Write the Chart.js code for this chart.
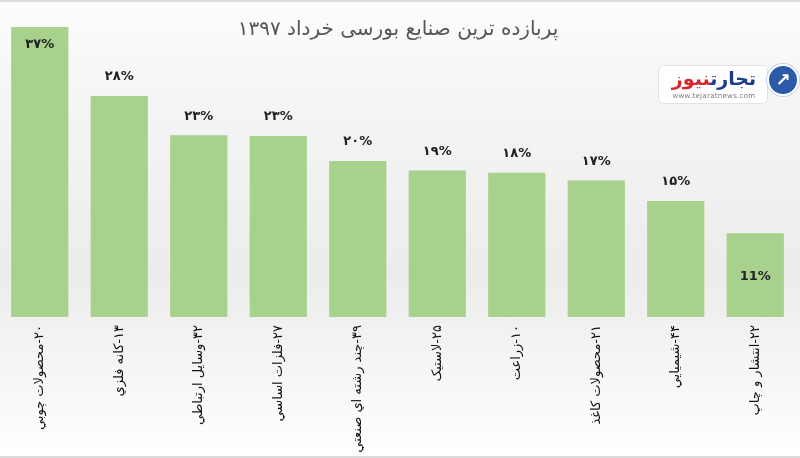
<!DOCTYPE html>
<html lang="fa">
<head>
<meta charset="utf-8">
<script src="https://cdn.jsdelivr.net/npm/chart.js@4.4.1/dist/chart.umd.min.js"></script>
<style>
  html, body { margin: 0; padding: 0; }
  body { width: 800px; height: 458px; overflow: hidden; }
  #wrap {
    position: relative; width: 800px; height: 458px; box-sizing: border-box;
    border-top: 2px solid #dcdcdc; border-bottom: 2px solid #dcdcdc;
    background: linear-gradient(to bottom, #fcfcfc 0%, #f4f4f4 25%, #ececec 60%, #f5f5f5 80%, #ffffff 100%);
  }
  #c { position: absolute; left: 0; top: 0; direction: rtl; }
  #title {
    position: absolute; left: 0; width: 796px; top: 14px; text-align: center;
    font-family: "DejaVu Sans", "Noto Sans", sans-serif; font-size: 20px; color: #555;
    direction: rtl;
  }
  #logo { position: absolute; left: 658px; top: 62px; width: 140px; height: 42px; }
  #logo .box {
    position: absolute; left: 0; top: 1px; width: 110px; height: 39px;
    background: #fff; border: 1px solid #e2e2e2; border-radius: 6px; box-sizing: border-box;
  }
  #logo .name {
    position: absolute; left: 4px; top: 0px; width: 102px; text-align: center; direction: rtl;
    font-family: "DejaVu Sans", sans-serif; font-weight: bold; font-size: 19px; line-height: 24px;
  }
  #logo .name .a { color: #1f3c88; }
  #logo .name .b { color: #d7262e; }
  #logo .url {
    position: absolute; left: 3px; top: 26px; width: 104px; text-align: center;
    font-family: "DejaVu Sans", sans-serif; font-size: 7px; color: #777; letter-spacing: 0.3px;
  }
  #logo .icon {
    position: absolute; left: 109px; top: 0px; width: 28px; height: 28px; border-radius: 50%;
    background: #2d5aa8; border: 2px solid #fff; box-shadow: 0 0 0 1px #c9d3e6;
    color: #fff; font-family: "DejaVu Sans", sans-serif; font-size: 18px; line-height: 28px; text-align: center; font-weight: bold;
  }
</style>
</head>
<body>
<div id="wrap">
  <canvas id="c" width="800" height="458" dir="rtl"></canvas>
  <div id="title">پربازده ترین صنایع بورسی خرداد ۱۳۹۷</div>
  <div id="logo">
    <div class="box">
      <div class="name"><span class="a">تجارت</span><span class="b">نیوز</span></div>
      <div class="url">www.tejaratnews.com</div>
    </div>
    <div class="icon">↗</div>
  </div>
</div>
<script>
// Data
const categories = [
  "۲۰-محصولات چوبي",
  "۱۳-کانه فلزي",
  "۳۲-وسايل ارتباطي",
  "۲۷-فلزات اساسي",
  "۳۹-چند رشته اي صنعتي",
  "۲۵-لاستيک",
  "۱۰-زراعت",
  "۲۱-محصولات کاغذ",
  "۴۴-شيميايي",
  "۲۲-انتشار و چاپ"
];
const values = [37, 28.2, 23.2, 23.1, 19.9, 18.7, 18.4, 17.4, 14.8, 10.7];
const valueLabels = ["۳۷%", "۲۸%", "۲۳%", "۲۳%", "۲۰%", "۱۹%", "۱۸%", "۱۷%", "۱۵%", "11%"];

const barColor = "#a9d18e";

const valueLabelPlugin = {
  id: "valueLabels",
  afterDatasetsDraw(chart) {
    const ctx = chart.ctx;
    const meta = chart.getDatasetMeta(0);
    const last = meta.data.length - 1;
    ctx.save();
    ctx.direction = "ltr";
    ctx.font = "bold 13px 'DejaVu Sans', sans-serif";
    ctx.fillStyle = "#222";
    ctx.textAlign = "center";
    ctx.textBaseline = "middle";
    meta.data.forEach((bar, i) => {
      let y;
      if (i === 0) y = bar.y + 18;
      else if (i === last) y = bar.base - 40;
      else y = bar.y - 19;
      ctx.fillText(valueLabels[i], bar.x, y);
    });
    ctx.restore();
  }
};

new Chart(document.getElementById("c"), {
  type: "bar",
  data: {
    labels: categories,
    datasets: [{
      data: values,
      backgroundColor: barColor,
      borderWidth: 0,
      barPercentage: 0.72,
      categoryPercentage: 1.0
    }]
  },
  options: {
    responsive: false,
    animation: false,
    devicePixelRatio: 1,
    layout: { padding: { top: 25, left: 0, right: 5, bottom: 0 } },
    plugins: { legend: { display: false }, tooltip: { enabled: false } },
    scales: {
      x: {
        grid: { display: false, drawTicks: false },
        border: { display: false },
        ticks: {
          minRotation: 90, maxRotation: 90, padding: 8,
          color: "#111",
          font: { family: "'DejaVu Sans', sans-serif", size: 13 },
          autoSkip: false
        },
        afterFit(scale) { scale.height = 143; }
      },
      y: { display: false, min: 0, max: 37 }
    }
  },
  plugins: [valueLabelPlugin]
});
</script>
</body>
</html>
